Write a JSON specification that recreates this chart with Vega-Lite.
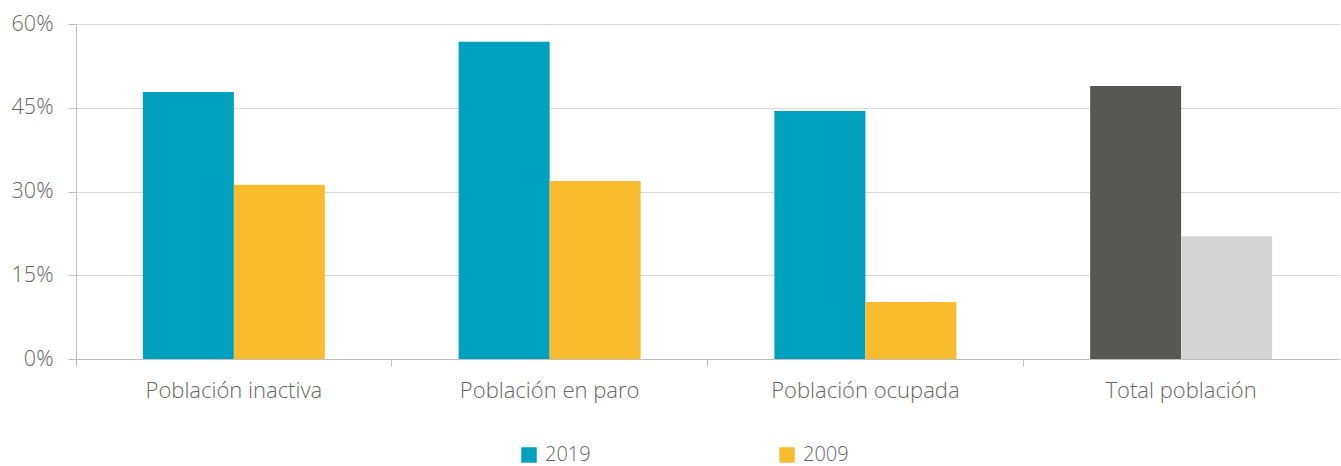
{
  "$schema": "https://vega.github.io/schema/vega-lite/v6.json",
  "width": 1263,
  "height": 335,
  "autosize": {"type": "none"},
  "padding": {"left": 76, "top": 24, "right": 2, "bottom": 107},
  "background": "white",
  "config": {
    "view": {"stroke": null},
    "font": "Open Sans",
    "axis": {"labelColor": "#666666", "labelFont": "Open Sans", "labelFontWeight": 300, "domainColor": "#bfbfbf", "tickColor": "#bfbfbf", "gridColor": "#d9d9d9", "title": null}
  },
  "data": {"values": [
    {"categoria": "Población inactiva", "anio": "2019", "serie": "2019", "valor": 47.8},
    {"categoria": "Población inactiva", "anio": "2009", "serie": "2009", "valor": 31.2},
    {"categoria": "Población en paro", "anio": "2019", "serie": "2019", "valor": 56.8},
    {"categoria": "Población en paro", "anio": "2009", "serie": "2009", "valor": 31.9},
    {"categoria": "Población ocupada", "anio": "2019", "serie": "2019", "valor": 44.4},
    {"categoria": "Población ocupada", "anio": "2009", "serie": "2009", "valor": 10.2},
    {"categoria": "Total población", "anio": "2019", "serie": "Total 2019", "valor": 48.9},
    {"categoria": "Total población", "anio": "2009", "serie": "Total 2009", "valor": 22.0}
  ]},
  "mark": {"type": "bar"},
  "encoding": {
    "x": {
      "field": "categoria", "type": "nominal", "sort": null,
      "scale": {"paddingInner": 0, "paddingOuter": 0},
      "axis": {"labelAngle": 0, "labelFontSize": 22, "labelLimit": 400, "labelPadding": 14, "tickSize": 7, "bandPosition": 0, "ticks": true, "labelAlign": "center"}
    },
    "xOffset": {"field": "anio", "type": "nominal", "sort": ["2019", "2009"], "scale": {"paddingInner": 0, "paddingOuter": 0.735}},
    "y": {
      "field": "valor", "type": "quantitative",
      "scale": {"domain": [0, 60]},
      "axis": {"values": [0, 15, 30, 45, 60], "labelExpr": "datum.value + '%'", "labelFontSize": 21.5, "tickSize": 8, "labelPadding": 15, "grid": true}
    },
    "color": {
      "field": "serie", "type": "nominal",
      "scale": {"domain": ["2019", "2009", "Total 2019", "Total 2009"], "range": ["#00a0bf", "#f9bc2f", "#575755", "#d5d5d5"]},
      "legend": {"values": ["2019", "2009"], "title": null, "orient": "none", "legendX": 443, "legendY": 421, "direction": "horizontal", "symbolType": "square", "symbolSize": 240, "symbolStrokeWidth": 0, "symbolOpacity": 1, "labelFontSize": 20, "labelColor": "#666666", "labelFontWeight": 300, "columnPadding": 186, "labelOffset": 6}
    }
  }
}
